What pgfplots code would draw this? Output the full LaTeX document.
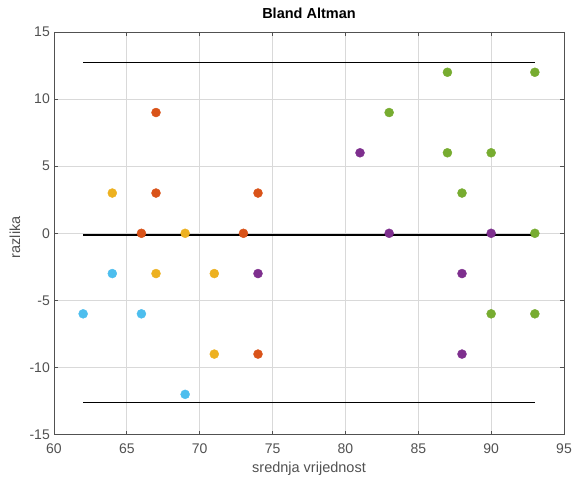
\documentclass[border=0pt]{standalone}
\usepackage{pgfplots}
\pgfplotsset{compat=1.18}
\usepackage{fontspec}
\setmainfont{Liberation Sans}
\definecolor{mblue}{HTML}{4DBEEE}
\definecolor{myellow}{HTML}{EDB120}
\definecolor{morange}{HTML}{D95319}
\definecolor{mpurple}{HTML}{7E2F8E}
\definecolor{mgreen}{HTML}{77AC30}
\definecolor{axgray}{HTML}{262626}
\begin{document}
\begin{tikzpicture}
\begin{axis}[
  scale only axis, width=510pt, height=402.6pt,
  xmin=60, xmax=95, ymin=-15, ymax=15,
  xtick={60,65,...,95}, ytick={-15,-10,...,15},
  grid=major, grid style={gray!30, line width=0.9pt},
  axis line style={axgray!80, line width=0.9pt},
  tick style={axgray!80, line width=0.9pt},
  tick align=inside, major tick length=4pt,
  ticklabel style={font=\fontsize{14}{16}\selectfont, text=axgray!80},
  xticklabel style={anchor=center, yshift=-14.5pt},
  yticklabel style={anchor=east, inner sep=0pt, xshift=-4pt},
  /pgf/number format/assume math mode=true,
  xlabel={srednja vrijednost}, ylabel={razlika},
  label style={font=\fontsize{14.5}{16}\selectfont, text=axgray!80},
  xlabel style={at={(axis description cs:0.5,-0.0857)}, anchor=center},
  ylabel style={at={(axis description cs:-0.0765,0.49)}, anchor=center},
  title={\textbf{Bland Altman}},
  title style={font=\fontsize{14.5}{16}\selectfont, at={(axis description cs:0.5,1.0313)}, anchor=center},
  every axis plot/.append style={only marks, mark=*, mark size=4.5pt},
]
\addplot[no marks, sharp plot, black, line width=1.3pt] coordinates {(62,12.74) (93,12.74)};
\addplot[no marks, sharp plot, black, line width=1.3pt] coordinates {(62,-0.13) (93,-0.13)};
\addplot[no marks, sharp plot, black, line width=1.3pt] coordinates {(62,-12.6) (93,-12.6)};
\addplot[mblue, mark options={fill=mblue, draw=mblue}] coordinates {(62,-6) (64,-3) (66,-6) (69,-12)};
\addplot[myellow, mark options={fill=myellow, draw=myellow}] coordinates {(64,3) (67,-3) (69,0) (71,-3) (71,-9)};
\addplot[morange, mark options={fill=morange, draw=morange}] coordinates {(66,0) (67,9) (67,3) (73,0) (74,3) (74,-9)};
\addplot[mpurple, mark options={fill=mpurple, draw=mpurple}] coordinates {(74,-3) (81,6) (83,0) (88,-3) (88,-9) (90,0)};
\addplot[mgreen, mark options={fill=mgreen, draw=mgreen}] coordinates {(83,9) (87,12) (87,6) (88,3) (90,6) (90,-6) (93,12) (93,0) (93,-6)};
\end{axis}
\pgfresetboundingbox
\path[use as bounding box] (current axis.south west) ++(-54pt,-41.4pt) rectangle ([xshift=10pt,yshift=32pt]current axis.north east);
\end{tikzpicture}
\end{document}
